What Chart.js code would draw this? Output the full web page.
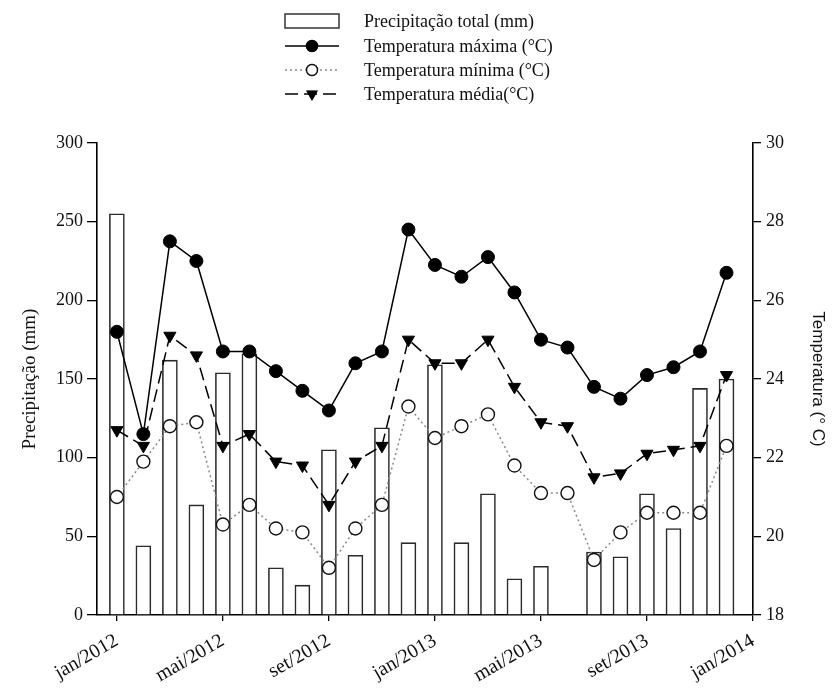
<!DOCTYPE html>
<html>
<head>
<meta charset="utf-8">
<script src="https://cdn.jsdelivr.net/npm/chart.js@4/dist/chart.umd.min.js"></script>
<style>
  html, body { margin: 0; padding: 0; background: #fff; }
  #wrap { width: 832px; height: 689px; position: relative; }
</style>
</head>
<body>
<div id="wrap"><canvas id="c"></canvas></div>
<script>
// Monthly series, jan/2012 .. dez/2013
const months = ['jan/2012','fev/2012','mar/2012','abr/2012','mai/2012','jun/2012','jul/2012','ago/2012','set/2012','out/2012','nov/2012','dez/2012',
                'jan/2013','fev/2013','mar/2013','abr/2013','mai/2013','jun/2013','jul/2013','ago/2013','set/2013','out/2013','nov/2013','dez/2013'];
const precipitacao = [255, 44, 162, 70, 154, 166, 30, 19, 105, 38, 119, 46,
                      159, 46, 77, 23, 31, 0, 40, 37, 77, 55, 144, 150];
const tempMaxima   = [25.2, 22.6, 27.5, 27.0, 24.7, 24.7, 24.2, 23.7, 23.2, 24.4, 24.7, 27.8,
                      26.9, 26.6, 27.1, 26.2, 25.0, 24.8, 23.8, 23.5, 24.1, 24.3, 24.7, 26.7];
const tempMinima   = [21.0, 21.9, 22.8, 22.9, 20.3, 20.8, 20.2, 20.1, 19.2, 20.2, 20.8, 23.3,
                      22.5, 22.8, 23.1, 21.8, 21.1, 21.1, 19.4, 20.1, 20.6, 20.6, 20.6, 22.3];
const tempMedia    = [22.7, 22.3, 25.1, 24.6, 22.3, 22.6, 21.9, 21.8, 20.8, 21.9, 22.3, 25.0,
                      24.4, 24.4, 25.0, 23.8, 22.9, 22.8, 21.5, 21.6, 22.1, 22.2, 22.3, 24.1];
// Axis labels every four months
const tickLabels = ['jan/2012','mai/2012','set/2012','jan/2013','mai/2013','set/2013','jan/2014'];
const tickStep = 4;

const SERIF = '"Liberation Serif", "Times New Roman", serif';
const SANS = '"Liberation Sans", Arial, sans-serif';

const pts = arr => arr.map((v, i) => ({ x: i, y: v }));

// Stacked legend block drawn above the plot
const stackedLegend = {
  id: 'stackedLegend',
  afterDraw(chart) {
    const ctx = chart.ctx;
    const sx0 = 285, sx1 = 339, tx = 364;
    const rows = [21, 46, 70, 94];
    ctx.save();
    ctx.font = '18px ' + SERIF;
    ctx.fillStyle = '#111';
    ctx.textBaseline = 'middle';
    chart.data.datasets.forEach((ds, i) => {
      const y = rows[i];
      if (ds.type === 'bar') {
        ctx.fillStyle = '#fff';
        ctx.fillRect(sx0, y - 7, sx1 - sx0, 14);
        ctx.strokeStyle = '#333';
        ctx.lineWidth = 1.5;
        ctx.strokeRect(sx0, y - 7, sx1 - sx0, 14);
      } else {
        ctx.strokeStyle = ds.borderColor;
        ctx.lineWidth = ds.borderWidth;
        ctx.setLineDash(ds.borderDash || []);
        ctx.beginPath();
        ctx.moveTo(sx0, y);
        ctx.lineTo(sx1, y);
        ctx.stroke();
        ctx.setLineDash([]);
        Chart.helpers.drawPoint(ctx, {
          pointStyle: ds.pointStyle,
          rotation: ds.pointRotation || 0,
          radius: 5.5,
          borderWidth: ds.pointBorderWidth
        }, (sx0 + sx1) / 2, y);
        ctx.fillStyle = ds.pointBackgroundColor;
        ctx.strokeStyle = ds.pointBorderColor;
        ctx.lineWidth = ds.pointBorderWidth;
        ctx.fill();
        ctx.stroke();
      }
      ctx.fillStyle = '#111';
      ctx.fillText(ds.label, tx, y + 1);
    });
    ctx.restore();
  }
};

new Chart(document.getElementById('c'), {
  data: {
    datasets: [
      {
        type: 'bar',
        label: 'Precipitação total (mm)',
        data: pts(precipitacao),
        yAxisID: 'yP',
        backgroundColor: '#ffffff',
        borderColor: '#2a2a2a',
        borderWidth: 1.6,
        barThickness: 15,
        order: 5
      },
      {
        type: 'line',
        label: 'Temperatura máxima (°C)',
        data: pts(tempMaxima),
        yAxisID: 'yT',
        borderColor: '#000',
        borderWidth: 1.5,
        pointStyle: 'circle',
        pointRadius: 6.5,
        pointBackgroundColor: '#000',
        pointBorderColor: '#000',
        pointBorderWidth: 1,
        order: 1
      },
      {
        type: 'line',
        label: 'Temperatura mínima (°C)',
        data: pts(tempMinima),
        yAxisID: 'yT',
        borderColor: '#8a8a8a',
        borderWidth: 1.5,
        borderDash: [2, 3],
        pointStyle: 'circle',
        pointRadius: 6.5,
        pointBackgroundColor: '#fff',
        pointBorderColor: '#111',
        pointBorderWidth: 1.4,
        order: 2
      },
      {
        type: 'line',
        label: 'Temperatura média(°C)',
        data: pts(tempMedia),
        yAxisID: 'yT',
        borderColor: '#000',
        borderWidth: 1.5,
        borderDash: [13, 6],
        pointStyle: 'triangle',
        pointRotation: 180,
        pointRadius: 7,
        pointBackgroundColor: '#000',
        pointBorderColor: '#000',
        pointBorderWidth: 1,
        order: 3
      }
    ]
  },
  options: {
    responsive: true,
    maintainAspectRatio: false,
    animation: false,
    layout: { padding: { top: 143, left: 0, right: 0, bottom: 0 } },
    plugins: {
      legend: { display: false },
      tooltip: { enabled: false }
    },
    scales: {
      x: {
        type: 'linear',
        position: 'bottom',
        offset: false,
        min: -0.75,
        max: months.length,
        afterBuildTicks: s => {
          s.ticks = tickLabels.map((_, i) => ({ value: i * tickStep }));
        },
        afterFit: s => { s.height = 74; },
        grid: { display: true, offset: false, drawOnChartArea: false, drawTicks: true, tickLength: 6, color: '#000', lineWidth: 1.3 },
        border: { display: true, color: '#000', width: 1.6 },
        ticks: {
          minRotation: 30,
          maxRotation: 30,
          padding: 8,
          color: '#111',
          font: { family: SERIF, size: 20 },
          callback: v => tickLabels[Math.round(v / tickStep)]
        }
      },
      yP: {
        type: 'linear',
        position: 'left',
        min: 0,
        max: 300,
        afterFit: s => { s.width = 97; },
        grid: { display: true, drawOnChartArea: false, drawTicks: true, tickLength: 10, color: '#000', lineWidth: 1.3 },
        border: { display: true, color: '#000', width: 1.6 },
        ticks: { stepSize: 50, padding: 4, color: '#111', font: { family: SERIF, size: 18 } },
        title: {
          display: true,
          text: 'Precipitação (mm)',
          color: '#111',
          font: { family: SERIF, size: 19 },
          padding: { top: 19, bottom: 0 }
        }
      },
      yT: {
        type: 'linear',
        position: 'right',
        min: 18,
        max: 30,
        afterFit: s => { s.width = 79; },
        grid: { display: true, drawOnChartArea: false, drawTicks: true, tickLength: 8, color: '#000', lineWidth: 1.3 },
        border: { display: true, color: '#000', width: 1.6 },
        ticks: { stepSize: 2, padding: 5, color: '#111', font: { family: SERIF, size: 18 } },
        title: {
          display: true,
          text: 'Temperatura (° C)',
          color: '#111',
          font: { family: SANS, size: 17 },
          padding: { top: 4, bottom: 0 }
        }
      }
    }
  },
  plugins: [stackedLegend]
});
</script>
</body>
</html>
